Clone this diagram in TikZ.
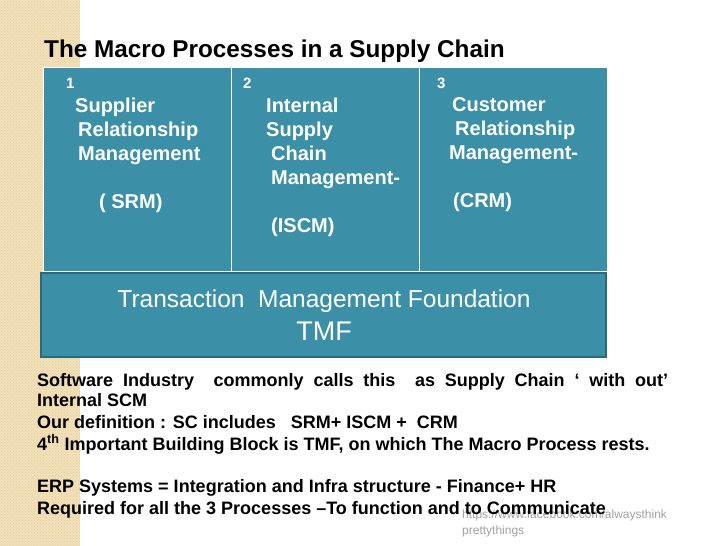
\documentclass[tikz,border=0pt]{standalone}
\usepackage{fontspec}
\setmainfont{Liberation Sans}
\usetikzlibrary{patterns}
\definecolor{slideteal}{RGB}{59,144,167}
\definecolor{tealedge}{RGB}{42,104,122}
\definecolor{sandstrip}{RGB}{242,224,184}
\definecolor{sanddots}{RGB}{226,205,160}
\definecolor{urlgray}{RGB}{160,160,160}

\begin{document}
\begin{tikzpicture}[x=1pt,y=-1pt,
  cellbox/.style={draw=white,line width=1pt,fill=slideteal},
  cellnum/.style={anchor=base west,inner sep=0pt,text=white,font=\fontsize{15}{18}\selectfont\bfseries},
  celltext/.style={anchor=north west,inner sep=0pt,align=left,text=white,font=\fontsize{20}{24}\selectfont\bfseries},
  bodytext/.style={anchor=north west,inner sep=0pt,align=left,font=\fontsize{18}{20}\selectfont\bfseries}]
\useasboundingbox (0,0) rectangle (728,546);
% side strip
\fill[sandstrip] (0,0) rectangle (80,546);
\fill[pattern=crosshatch dots,pattern color=sanddots] (0,0) rectangle (80,546);
\node[anchor=base west,inner sep=0pt,font=\fontsize{24.3}{28}\selectfont\bfseries] (title) at (44,57) {The Macro Processes in a Supply Chain};
% the three processes
\draw[cellbox] (43,67) rectangle (231,271);
\draw[cellbox] (231,67) rectangle (419,271);
\draw[cellbox] (419,67) rectangle (607,271);
\node[cellnum] (num1) at (66,88) {1};
\node[cellnum] (num2) at (243,88) {2};
\node[cellnum] (num3) at (437,88) {3};
\node[celltext] (srm) at (75,97.5) {Supplier\\\hspace{3pt}Relationship\\\hspace{3pt}Management\\[24pt]\hspace{24pt}( SRM)};
\node[celltext] (iscm) at (266,97.5) {Internal\\Supply\\\hspace{5pt}Chain\\\hspace{5pt}Management-\\[24pt]\hspace{5pt}(ISCM)};
\node[celltext] (crm) at (449,97.5) {\hspace{3pt}Customer\\\hspace{6pt}Relationship\\Management-\\[24pt]\hspace{4pt}(CRM)};
% foundation
\draw[fill=slideteal,draw=tealedge,line width=1.5pt] (41,273) rectangle (606,357);
\node[anchor=base,inner sep=0pt,text=white,font=\fontsize{24.5}{28}\selectfont] (tmfname) at (324,307) {Transaction\ \ Management Foundation};
\node[anchor=base,inner sep=0pt,text=white,font=\fontsize{27}{30}\selectfont] (tmf) at (324,340) {TMF};
% notes
\node[anchor=base west,inner sep=0pt,align=left,text=urlgray,font=\fontsize{12}{16}\selectfont] (url) at (462,534) {https://www.facebook.com/alwaysthink\\prettythings};
\node[bodytext] (notes) at (37,373) {\makebox[631pt][s]{Software Industry\ \ commonly calls this\ \ as Supply Chain ‘ with out’}\\
Internal SCM\\[2pt]
Our definition : SC includes\ \ \ SRM+ ISCM +\ \ CRM\\[2pt]
4\textsuperscript{th} Important Building Block is TMF, on which The Macro Process rests.\\[22pt]
ERP Systems = Integration and Infra structure - Finance+ HR\\[2pt]
Required for all the 3 Processes –To function and to Communicate};
\end{tikzpicture}
\end{document}
